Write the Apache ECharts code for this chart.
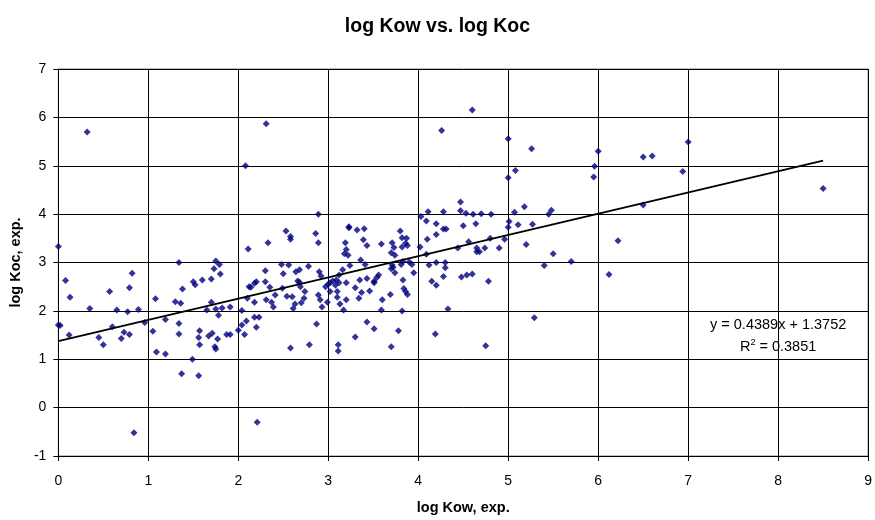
<!DOCTYPE html>
<html>
<head>
<meta charset="utf-8">
<script src="https://cdn.jsdelivr.net/npm/echarts@6/dist/echarts.min.js"></script>
<style>
html,body{margin:0;padding:0;background:#fff;}
#chart{width:875px;height:520px;}
</style>
</head>
<body>
<div id="chart"></div>
<script>
// log Kow (x) values
var logKow = [
0.32,0.00,0.08,0.13,0.35,0.57,0.65,0.77,0.79,0.82,0.89,1.08,0.00,0.02,0.12,0.45,0.50,0.60,0.70,0.73,0.79,0.96,1.05,1.09,0.84,
2.08,1.19,1.19,1.30,1.34,1.38,1.36,1.34,1.34,1.37,1.49,1.56,1.50,1.52,1.60,1.70,1.80,1.73,1.75,1.79,1.70,1.65,1.75,1.82,1.78,1.91,1.57,1.56,1.57,1.67,1.71,1.77,1.74,1.75,1.87,1.91,2.00,2.04,2.04,2.07,2.09,2.10,2.11,2.12,2.21,
2.31,2.89,2.53,2.58,2.58,2.33,2.86,2.89,2.48,2.56,2.78,2.30,2.50,2.64,2.68,2.90,2.20,2.18,2.30,2.14,2.35,2.66,2.68,2.49,2.69,2.92,2.41,2.54,2.60,2.74,2.31,2.37,2.18,2.39,2.63,2.61,2.70,2.73,2.89,2.91,2.93,2.99,2.97,3.00,3.02,3.05,2.18,2.23,2.20,2.87,2.58,2.79,3.11,
4.03,4.11,4.09,3.23,3.23,3.32,3.40,3.80,3.39,3.43,3.19,3.20,3.18,3.22,3.59,3.71,3.73,3.70,3.74,3.82,3.82,3.86,3.87,3.88,4.02,4.10,3.24,3.36,3.41,3.16,3.12,3.09,3.08,3.12,3.20,3.35,3.43,3.51,3.51,3.56,3.54,3.70,3.71,3.72,3.74,3.81,3.83,3.90,3.93,3.95,3.02,3.10,3.10,3.30,3.37,3.34,3.46,3.69,3.83,3.84,3.86,3.88,3.13,3.20,3.17,3.60,3.59,3.82,3.43,3.51,3.78,3.30,3.11,3.70,
4.60,4.26,5.00,5.08,5.00,4.47,4.47,4.53,4.61,4.70,4.81,5.07,4.28,4.20,4.28,4.31,4.50,4.64,5.01,5.00,5.11,4.20,4.09,4.56,4.44,4.65,4.68,4.65,4.74,4.80,4.90,4.96,4.12,4.20,4.30,4.30,4.28,4.15,4.20,4.48,4.54,4.60,4.78,4.33,4.19,4.75,
5.26,6.00,5.96,5.95,6.50,6.60,7.00,6.94,6.50,5.18,5.45,5.48,5.27,5.20,5.50,5.40,5.70,6.22,6.12,5.29,8.50
];
// log Koc (y) values
var logKoc = [
5.70,3.33,2.63,2.28,2.05,2.40,2.02,1.98,2.48,2.78,2.03,2.25,1.71,1.70,1.50,1.45,1.30,1.67,1.43,1.56,1.51,1.76,1.58,1.15,-0.52,
5.00,1.11,1.82,2.19,3.00,2.45,2.16,1.74,1.52,0.70,1.00,0.66,2.60,2.54,2.64,2.66,2.76,2.87,3.03,2.96,2.18,2.02,2.04,2.06,1.91,2.08,1.59,1.45,1.30,1.48,1.54,1.42,1.26,1.21,1.51,1.51,1.60,2.01,1.71,1.51,1.79,2.26,3.28,2.50,-0.30,
5.87,4.00,3.65,3.54,3.48,3.41,3.60,3.41,2.96,2.95,2.92,2.83,2.77,2.81,2.85,2.81,2.60,2.57,2.60,2.49,2.49,2.62,2.59,2.47,2.50,2.72,2.33,2.30,2.29,2.40,2.23,2.18,2.18,2.08,2.14,2.05,2.17,2.26,2.33,2.23,2.08,2.18,2.50,2.55,2.58,2.62,1.87,1.87,1.66,1.73,1.23,1.30,1.30,
3.95,4.05,3.86,3.74,3.72,3.67,3.70,3.65,3.47,3.35,3.41,3.27,3.18,3.15,3.38,3.41,3.31,3.20,3.15,3.51,3.32,3.40,3.50,3.35,3.32,3.48,2.94,3.05,2.96,2.85,2.74,2.64,2.53,2.58,2.58,2.64,2.67,2.61,2.58,2.74,2.69,2.87,2.95,2.90,2.79,2.96,3.02,3.01,2.96,2.79,2.40,2.40,2.28,2.48,2.38,2.26,2.41,2.34,2.64,2.46,2.40,2.34,2.14,2.23,2.02,2.23,2.02,2.00,1.77,1.63,1.59,1.46,1.17,1.26,
6.15,5.73,5.56,4.90,4.75,4.25,4.07,4.02,4.00,4.01,4.00,4.04,4.05,3.80,3.69,3.69,3.76,3.80,3.85,3.73,3.78,3.58,3.17,3.43,3.30,3.30,3.22,3.22,3.30,3.50,3.30,3.48,2.95,3.00,3.00,2.89,2.71,2.61,2.53,2.70,2.74,2.76,2.61,2.04,1.52,1.28,
5.35,5.30,4.99,4.77,5.18,5.20,5.49,4.88,4.19,4.15,4.00,4.08,3.79,3.37,3.18,2.94,3.02,3.45,2.75,1.86,4.53
];
// linear trendline coefficients shown on the chart
var trendSlope = 0.4389;
var trendIntercept = 1.3752;
var trendR2 = 0.3851;
var xTicks = [0,1,2,3,4,5,6,7,8,9];
var yTicks = [-1,0,1,2,3,4,5,6,7];

var points = logKow.map(function(x, i){ return [x, logKoc[i]]; });
var xMin = Math.min.apply(null, logKow), xMax = Math.max.apply(null, logKow);
var trend = [[xMin, trendSlope*xMin + trendIntercept], [xMax, trendSlope*xMax + trendIntercept]];

var chart = echarts.init(document.getElementById('chart'));
var font = 'Arial, "Liberation Sans", sans-serif';
chart.setOption({
  backgroundColor: '#ffffff',
  animation: false,
  title: {
    text: 'log Kow vs. log Koc',
    left: 'center', top: 12,
    textStyle: {fontFamily: font, fontSize: 19.5, fontWeight: 'bold', color: '#000'}
  },
  grid: {left: 58, right: 6, top: 69, bottom: 61, show: true, borderColor: '#808080', borderWidth: 1, backgroundColor: '#fff'},
  xAxis: {
    type: 'value', min: xTicks[0], max: xTicks[xTicks.length-1], interval: 1,
    name: 'log Kow, exp.', nameLocation: 'middle', nameGap: 44,
    nameTextStyle: {fontFamily: font, fontSize: 14.5, fontWeight: 'bold', color: '#000'},
    axisLine: {show: true, onZero: false, lineStyle: {color: '#000', width: 1}},
    axisTick: {show: true, inside: false, length: 5, lineStyle: {color: '#000'}},
    axisLabel: {fontFamily: font, fontSize: 14, color: '#000', margin: 18},
    splitLine: {show: true, lineStyle: {color: '#000', width: 1}}
  },
  yAxis: {
    type: 'value', min: yTicks[0], max: yTicks[yTicks.length-1], interval: 1,
    name: 'log Koc, exp.', nameLocation: 'middle', nameGap: 34, nameRotate: 90,
    nameTextStyle: {fontFamily: font, fontSize: 14.5, fontWeight: 'bold', color: '#000'},
    axisLine: {show: true, onZero: false, lineStyle: {color: '#000', width: 1}},
    axisTick: {show: true, inside: false, length: 5, lineStyle: {color: '#000'}},
    axisLabel: {fontFamily: font, fontSize: 14, color: '#000', margin: 12},
    splitLine: {show: true, lineStyle: {color: '#000', width: 1}}
  },
  series: [
    {
      type: 'scatter', data: points, symbol: 'diamond', symbolSize: 7,
      itemStyle: {color: '#000080'}, z: 3
    },
    {
      type: 'line', data: trend, showSymbol: false, symbol: 'none',
      lineStyle: {color: '#000', width: 2}, z: 4, silent: true
    }
  ]
});

var eqPos = chart.convertToPixel({gridIndex: 0}, [8, 1.7]);
chart.setOption({
  graphic: [
    {
      type: 'text', x: eqPos[0], y: eqPos[1], z: 10,
      style: {
        text: 'y = ' + trendSlope.toFixed(4) + 'x + ' + trendIntercept.toFixed(4),
        fill: '#000', font: '14.5px Arial, "Liberation Sans", sans-serif',
        align: 'center', verticalAlign: 'middle'
      }
    },
    {
      type: 'text', x: eqPos[0], y: eqPos[1] + 22, z: 10,
      style: {
        text: '{a|R}{s|2}{a| = ' + trendR2.toFixed(4) + '}',
        align: 'center', verticalAlign: 'middle',
        rich: {
          a: {fontSize: 14.5, fontFamily: 'Arial, "Liberation Sans", sans-serif', fill: '#000', color: '#000'},
          s: {fontSize: 9, fontFamily: 'Arial, "Liberation Sans", sans-serif', fill: '#000', color: '#000', padding: [0,0,9,0]}
        }
      }
    }
  ]
});
</script>
</body>
</html>
